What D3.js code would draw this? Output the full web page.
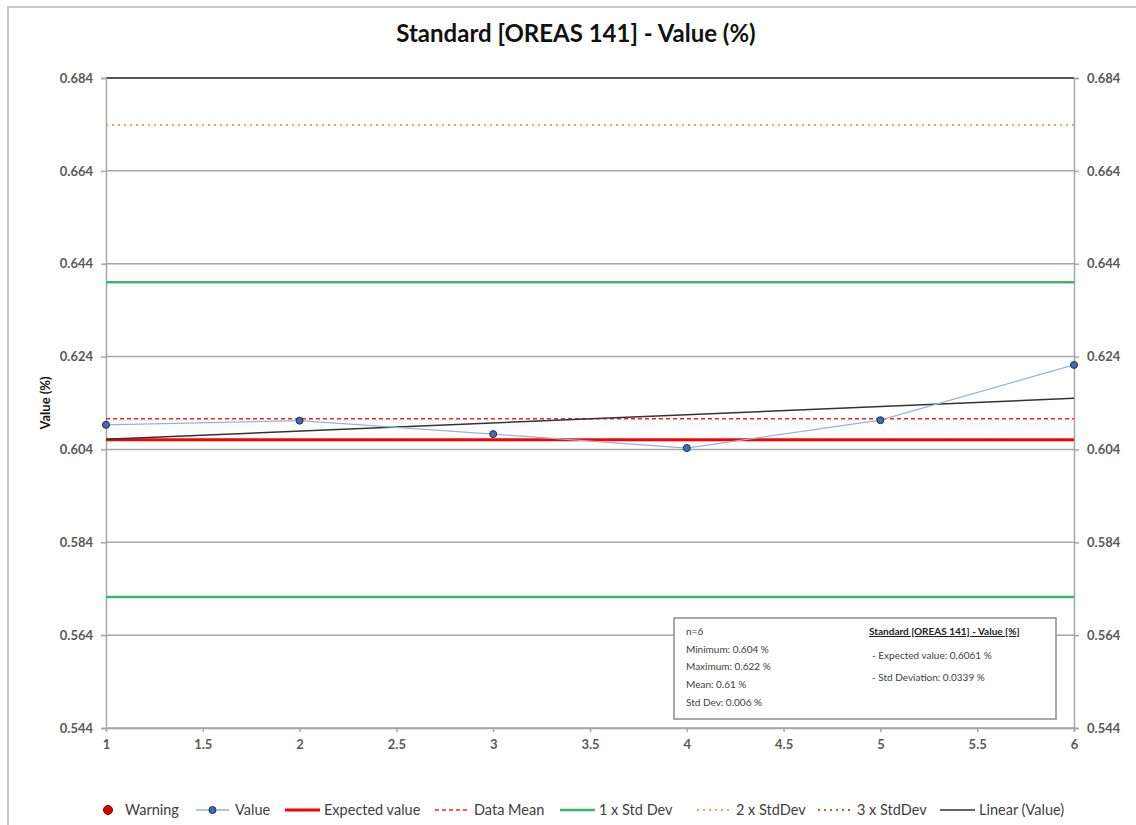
<!DOCTYPE html>
<head>
<meta charset="utf-8">
<script src="https://d3js.org/d3.v7.min.js"></script>
<style>
    body{margin:0;background:#fff;}
    text{font-family:Lato,"Open Sans",sans-serif;}
</style>
</head>
<body>
<div id="container"></div>
<script>
    // data
    var samples = [1, 2, 3, 4, 5, 6];
    var values = [0.6093, 0.6102, 0.6073, 0.6043, 0.6103, 0.6222];
    var expectedValue = 0.6061;
    var stdDeviation = 0.0339;
    var yTicks = [0.544, 0.564, 0.584, 0.604, 0.624, 0.644, 0.664, 0.684];
    var xTicks = [1, 1.5, 2, 2.5, 3, 3.5, 4, 4.5, 5, 5.5, 6];
    var statsLeft = ['n=6', 'Minimum: 0.604 %', 'Maximum: 0.622 %', 'Mean: 0.61 %', 'Std Dev: 0.006 %'];
    var statsRight = ['- Expected value: 0.6061 %', '- Std Deviation: 0.0339 %'];
    var legendItems = [
        {name:'Warning', type:'dot'},
        {name:'Value', type:'value'},
        {name:'Expected value', type:'line', color:'#ff0000', w:3, dash:null},
        {name:'Data Mean', type:'line', color:'#ff2020', w:1.5, dash:'4,3'},
        {name:'1 x Std Dev', type:'line', color:'#3cb46e', w:2.5, dash:null},
        {name:'2 x StdDev', type:'line', color:'#f9a15a', w:2, dash:'2,4'},
        {name:'3 x StdDev', type:'line', color:'#b8652a', w:2, dash:'2,4'},
        {name:'Linear (Value)', type:'line', color:'#333', w:1.5, dash:null}
    ];

    var W = 1136, H = 825;
    var svg = d3.select('#container').append('svg').attr('width', W).attr('height', H);

    // chart frame
    svg.append('rect').attr('x',8).attr('y',7).attr('width',1140).attr('height',830)
        .attr('fill','none').attr('stroke','#c8c8c8').attr('stroke-width',2);

    var x = d3.scaleLinear().domain([1, 6]).range([106, 1074]);
    var y = d3.scaleLinear().domain([0.544, 0.684]).range([728, 78]);

    // gridlines
    svg.append('g').selectAll('line').data(yTicks).enter().append('line')
        .attr('x1', x(1)).attr('x2', x(6))
        .attr('y1', d => y(d)).attr('y2', d => y(d))
        .attr('stroke', (d, i) => i == yTicks.length - 1 ? '#555' : '#a6a6a6')
        .attr('stroke-width', (d, i) => i == yTicks.length - 1 ? 2 : 1.5);

    // axes
    var leftAxis = svg.append('g').attr('transform','translate(' + x(1) + ',0)')
        .call(d3.axisLeft(y).tickValues(yTicks).tickFormat(d3.format('.3f')).tickSize(5).tickPadding(8));
    var rightAxis = svg.append('g').attr('transform','translate(' + x(6) + ',0)')
        .call(d3.axisRight(y).tickValues(yTicks).tickFormat(d3.format('.3f')).tickSize(5).tickPadding(8));
    var bottomAxis = svg.append('g').attr('transform','translate(0,' + y(0.544) + ')')
        .call(d3.axisBottom(x).tickValues(xTicks).tickFormat(d => d).tickSize(4).tickPadding(8));
    [leftAxis, rightAxis, bottomAxis].forEach(a => {
        a.select('.domain').attr('stroke','#a6a6a6').attr('stroke-width',1.5);
        a.selectAll('.tick line').attr('stroke','#a6a6a6').attr('stroke-width',1.5);
        a.selectAll('.tick text').attr('fill','#595959').style('font-size','13px').style('font-weight','bold')
            .style('font-family','Lato,"Open Sans",sans-serif');
    });

    // control lines
    var limits = [
        {v: expectedValue + 3 * stdDeviation, item: legendItems[6]},
        {v: expectedValue - 3 * stdDeviation, item: legendItems[6]},
        {v: expectedValue + 2 * stdDeviation, item: legendItems[5]},
        {v: expectedValue - 2 * stdDeviation, item: legendItems[5]},
        {v: expectedValue + stdDeviation, item: legendItems[4]},
        {v: expectedValue - stdDeviation, item: legendItems[4]},
        {v: d3.mean(values), item: legendItems[3]},
        {v: expectedValue, item: legendItems[2]}
    ].filter(d => d.v >= 0.544 && d.v <= 0.684);
    svg.append('g').selectAll('line').data(limits).enter().append('line')
        .attr('x1', x(1)).attr('x2', x(6))
        .attr('y1', d => y(d.v)).attr('y2', d => y(d.v))
        .attr('stroke', d => d.item.color).attr('stroke-width', d => d.item.w)
        .attr('stroke-dasharray', d => d.item.dash);

    // linear trend (least squares on values)
    var mx = d3.mean(samples), my = d3.mean(values);
    var slope = d3.sum(samples, (s, i) => (s - mx) * (values[i] - my)) / d3.sum(samples, s => (s - mx) * (s - mx));
    var icpt = my - slope * mx;
    svg.append('line')
        .attr('x1', x(1)).attr('x2', x(6))
        .attr('y1', y(icpt + slope * 1)).attr('y2', y(icpt + slope * 6))
        .attr('stroke','#333').attr('stroke-width',1.5);

    // value series
    var line = d3.line().x((d, i) => x(samples[i])).y(d => y(d));
    svg.append('path').datum(values).attr('d', line)
        .attr('fill','none').attr('stroke','#95b3d7').attr('stroke-width',1.2);
    svg.append('g').selectAll('circle').data(values).enter().append('circle')
        .attr('cx', (d, i) => x(samples[i])).attr('cy', d => y(d)).attr('r', 3.5)
        .attr('fill','#3d6eb4').attr('stroke','#1f2f4f').attr('stroke-width',1);

    // title
    svg.append('text').text('Standard [OREAS 141] - Value (%)')
        .attr('x', 576).attr('y', 42).attr('text-anchor','middle')
        .style('font-size','24px').style('font-weight','bold').attr('fill','#111');
    svg.append('text').text('Value (%)')
        .attr('transform','translate(50,' + 403 + ') rotate(-90)').attr('text-anchor','middle')
        .style('font-size','13px').style('font-weight','bold').attr('fill','#111');

    // stats box
    var box = svg.append('g').attr('transform','translate(674,618)');
    box.append('rect').attr('width',382).attr('height',101)
        .attr('fill','#fff').attr('stroke','#8c8c8c').attr('stroke-width',1.5);
    box.selectAll('.sl').data(statsLeft).enter().append('text').attr('class','sl')
        .text(d => d).attr('x',12).attr('y',(d, i) => 17 + i * 17.7)
        .style('font-size','10px').attr('fill','#404040');
    box.append('text').text('Standard [OREAS 141] - Value [%]')
        .attr('x',195).attr('y',17).style('font-size','10px').style('font-weight','bold')
        .style('text-decoration','underline').attr('fill','#222');
    box.selectAll('.sr').data(statsRight).enter().append('text').attr('class','sr')
        .text(d => d).attr('x',198).attr('y',(d, i) => 41 + i * 22)
        .style('font-size','10px').attr('fill','#404040');

    // legend
    var legendX = [100, 196, 285, 435, 560, 697, 818, 940];
    var lg = svg.append('g').attr('transform','translate(0,810)');
    legendItems.forEach((d, i) => {
        var g = lg.append('g').attr('transform','translate(' + legendX[i] + ',0)');
        var tx = 39;
        if (d.type == 'dot') {
            g.append('circle').attr('cx',8).attr('cy',0).attr('r',4.5)
                .attr('fill','#e00000').attr('stroke','#600').attr('stroke-width',1);
            tx = 25;
        } else if (d.type == 'value') {
            g.append('line').attr('x1',0).attr('x2',33).attr('y1',0).attr('y2',0)
                .attr('stroke','#95b3d7').attr('stroke-width',1.5);
            g.append('circle').attr('cx',16.5).attr('cy',0).attr('r',3.5)
                .attr('fill','#3d6eb4').attr('stroke','#1f2f4f').attr('stroke-width',1);
        } else {
            g.append('line').attr('x1',0).attr('x2',35).attr('y1',0).attr('y2',0)
                .attr('stroke',d.color).attr('stroke-width',d.w).attr('stroke-dasharray',d.dash);
        }
        g.append('text').text(d.name).attr('x',tx).attr('y',5)
            .style('font-size','14.5px').attr('fill','#404040');
    });
</script>
</body>
